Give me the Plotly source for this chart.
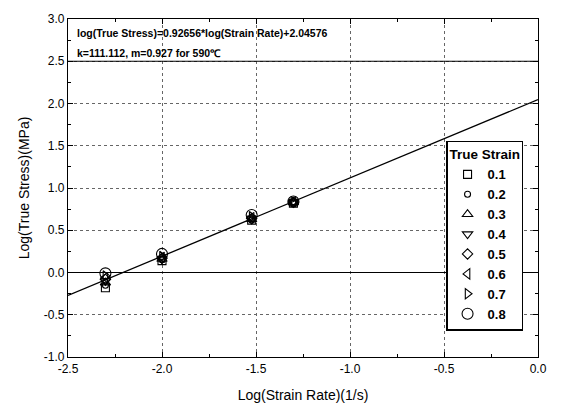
import plotly.graph_objects as go

# log10 of strain rate (1/s)
log_strain_rate = [-2.301, -2.0, -1.523, -1.301]

# log10 of true stress (MPa) at each true strain
strain_labels = ["0.1", "0.2", "0.3", "0.4", "0.5", "0.6", "0.7", "0.8"]
log_stress = {
    "0.1": [-0.18, 0.14, 0.62, 0.82],
    "0.2": [-0.15, 0.15, 0.62, 0.82],
    "0.3": [-0.12, 0.16, 0.63, 0.83],
    "0.4": [-0.10, 0.16, 0.63, 0.83],
    "0.5": [-0.08, 0.17, 0.64, 0.83],
    "0.6": [-0.06, 0.18, 0.65, 0.84],
    "0.7": [-0.04, 0.19, 0.66, 0.84],
    "0.8": [-0.01, 0.22, 0.68, 0.84],
}
symbols = ["square-open", "circle-open", "triangle-up-open", "triangle-down-open",
           "diamond-open", "triangle-left-open", "triangle-right-open", "circle-open"]
sizes = [8, 6, 9, 9, 8, 9, 9, 11]

# axis tick positions and labels
x_ticks = [-2.5, -2.0, -1.5, -1.0, -0.5, 0.0]
x_ticklabels = ["-2.5", "-2.0", "-1.5", "-1.0", "-0.5", "0.0"]
y_ticks = [-1.0, -0.5, 0.0, 0.5, 1.0, 1.5, 2.0, 2.5, 3.0]
y_ticklabels = ["-1.0", "-0.5", "0.0", "0.5", "1.0", "1.5", "2.0", "2.5", "3.0"]

# linear fit: log(stress) = slope * log(rate) + intercept
slope = 0.92656
intercept = 2.04576
fit_x = [-2.5, 0.0]
fit_y = [slope * x + intercept for x in fit_x]

font_family = "Liberation Sans, Arial, sans-serif"

fig = go.Figure()
fig.add_trace(go.Scatter(
    x=fit_x, y=fit_y, mode="lines",
    line=dict(color="black", width=1.3), showlegend=False, hoverinfo="skip",
))
for lab, sym, sz in zip(strain_labels, symbols, sizes):
    fig.add_trace(go.Scatter(
        x=log_strain_rate, y=log_stress[lab], mode="markers", name=f"<b>{lab}</b>",
        marker=dict(symbol=sym, size=sz, color="black", line=dict(width=1.1, color="black")),
    ))

# header band with the fitted equation
fig.add_shape(type="line", xref="paper", yref="y", x0=0, x1=1, y0=2.5, y1=2.5,
              line=dict(color="black", width=1.2))
fig.add_annotation(xref="paper", yref="y", x=0.015, y=2.83, xanchor="left", yanchor="middle",
                   text="<b>log(True Stress)=0.92656*log(Strain Rate)+2.04576</b>",
                   showarrow=False, font=dict(size=10.5, color="black", family=font_family))
fig.add_annotation(xref="paper", yref="y", x=0.015, y=2.6, xanchor="left", yanchor="middle",
                   text="<b>k=111.112, m=0.927 for 590℃</b>",
                   showarrow=False, font=dict(size=10.5, color="black", family=font_family))

axis_common = dict(
    showline=True, linecolor="black", linewidth=1.3, mirror="ticks",
    ticks="inside", ticklen=5, tickcolor="black",
    showgrid=True, gridcolor="#666666", griddash="dot", gridwidth=0.8,
    tickfont=dict(size=12, color="black", family=font_family),
    title_font=dict(size=14, color="black", family=font_family),
)

fig.update_xaxes(
    range=[-2.5, 0.0], tickmode="array", tickvals=x_ticks, ticktext=x_ticklabels,
    title_text="Log(Strain Rate)(1/s)", zeroline=False,
    minor=dict(ticks="inside", dtick=0.25, ticklen=3, tickcolor="black", showgrid=False),
    **axis_common,
)
fig.update_yaxes(
    range=[-1.0, 3.0], tickmode="array", tickvals=y_ticks, ticktext=y_ticklabels,
    title_text="Log(True Stress)(MPa)", title_standoff=10,
    zeroline=True, zerolinecolor="black", zerolinewidth=1,
    minor=dict(ticks="inside", dtick=0.25, ticklen=3, tickcolor="black", showgrid=False),
    **axis_common,
)

fig.update_layout(
    width=565, height=415,
    margin=dict(l=68, r=27, t=14, b=58),
    plot_bgcolor="white", paper_bgcolor="white",
    font=dict(family=font_family, color="black"),
    legend=dict(
        title=dict(text="<b>True Strain</b>", font=dict(size=13.5, family=font_family)),
        x=0.805, y=0.64, xanchor="left", yanchor="top",
        bgcolor="white", bordercolor="black", borderwidth=1.2,
        font=dict(size=13, family=font_family),
        itemsizing="trace", tracegroupgap=0, entrywidth=40,
    ),
)

fig.write_html("out.html")
